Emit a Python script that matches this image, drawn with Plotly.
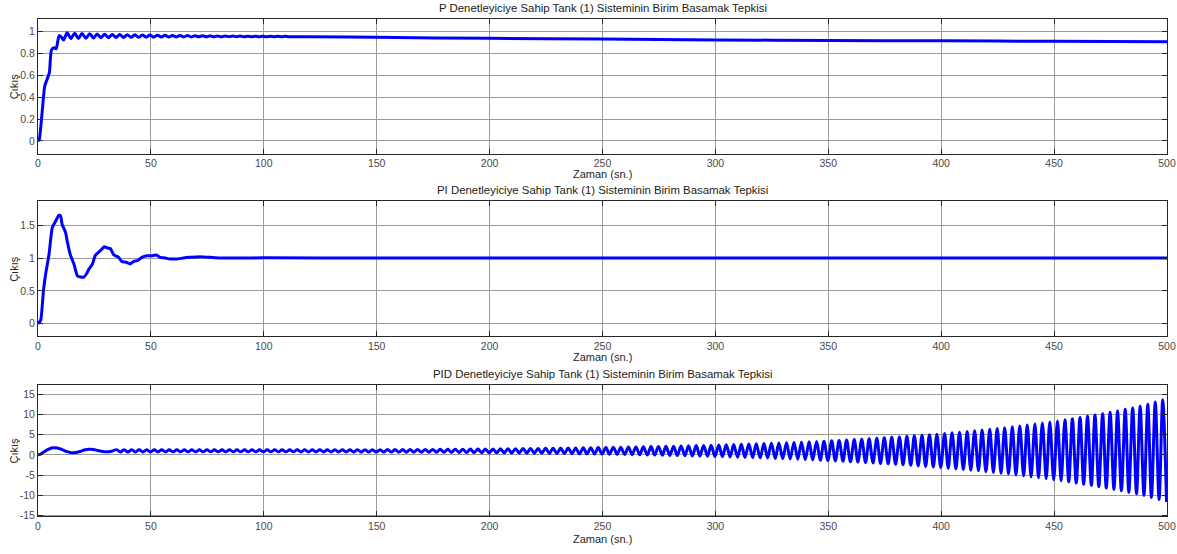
import plotly.graph_objects as go

# ---------------- P controller response ----------------
p_rise_t = [0, 0.5, 1, 2, 3, 4, 5, 6, 7, 8, 8.6, 9.4, 10.4, 11.3]
p_rise_y = [0, 0.01, 0.08, 0.30, 0.50, 0.56, 0.62, 0.83, 0.85, 0.84, 0.89, 0.96, 0.945, 0.92]

p_peak_t = [12.9, 16.2, 19.5, 22.9, 26.2, 29.5, 32.9, 36.2, 39.5, 42.9,
            46.2, 49.5, 52.9, 56.2, 59.5, 62.9, 66.2, 69.5, 72.9, 76.2,
            79.5, 82.9, 86.2, 89.5, 92.9, 96.2, 99.5, 102.9, 106.2, 109.5]
p_peak_y = [0.985, 0.982, 0.979, 0.977, 0.975, 0.973, 0.971, 0.970, 0.968, 0.967,
            0.966, 0.965, 0.964, 0.963, 0.962, 0.961, 0.960, 0.959, 0.959, 0.958,
            0.957, 0.957, 0.956, 0.956, 0.955, 0.955, 0.954, 0.954, 0.953, 0.953]
p_trough_t = [14.6, 17.9, 21.2, 24.6, 27.9, 31.2, 34.6, 37.9, 41.2, 44.6,
              47.9, 51.2, 54.6, 57.9, 61.2, 64.6, 67.9, 71.2, 74.6, 77.9,
              81.2, 84.6, 87.9, 91.2, 94.6, 97.9, 101.2, 104.6, 107.9, 111.2]
p_trough_y = [0.932, 0.934, 0.936, 0.938, 0.940, 0.941, 0.942, 0.943, 0.944, 0.945,
              0.946, 0.946, 0.947, 0.947, 0.948, 0.948, 0.948, 0.949, 0.949, 0.949,
              0.949, 0.949, 0.949, 0.949, 0.949, 0.949, 0.949, 0.949, 0.949, 0.949]
p_tail_t = [120, 150, 200, 250, 300, 350, 400, 450, 500]
p_tail_y = [0.950, 0.944, 0.935, 0.928, 0.921, 0.916, 0.912, 0.908, 0.905]

# ---------------- PI controller response ----------------
pi_t = [0, 1.2, 2.4, 3.4, 4.9, 6.3, 7.8, 9.3, 10.0, 10.7, 12.2, 12.9, 14.4, 15.9,
        17.4, 18.8, 20.3, 21.5, 22.5, 24.0, 25.4, 26.9, 28.4, 29.4, 30.9, 32.1,
        33.5, 35.7, 37.2, 39.1, 40.9, 42.4, 44.1, 46.0, 48.2, 50.4, 52.4, 54.1,
        56.3, 58.5, 61.5, 64.4, 67.4, 71.8, 76.2, 80.6, 90, 100, 150, 200, 300,
        400, 500]
pi_y = [0, 0.055, 0.50, 0.76, 1.06, 1.46, 1.56, 1.65, 1.64, 1.51, 1.39, 1.26, 1.04,
        0.91, 0.73, 0.71, 0.71, 0.76, 0.83, 0.90, 1.04, 1.09, 1.14, 1.17, 1.15, 1.14,
        1.05, 1.01, 0.945, 0.935, 0.91, 0.95, 0.96, 1.01, 1.035, 1.035, 1.045, 1.01,
        1.0, 0.985, 0.985, 1.0, 1.01, 1.02, 1.01, 1.0, 1.0, 1.003, 1.0, 1.0, 1.0,
        1.0, 1.0]

# ---------------- PID controller response ----------------
pid_start_t = [0, 1, 2.5, 4.5, 6.5, 8.5, 10.5, 12.5, 14.5, 16.5, 18.5, 20.5,
               22.5, 24.5, 26.5, 28.5, 30.5, 32.5]
pid_start_y = [0, 0.15, 0.70, 1.35, 1.75, 1.70, 1.35, 0.85, 0.55, 0.60, 0.85, 1.20,
               1.40, 1.35, 1.10, 0.85, 0.75, 0.90]

pid_peak_t = [
    34.8, 38.1,
    41.5, 44.8, 48.1, 51.5, 54.8, 58.1, 61.5, 64.8, 68.1, 71.5, 74.8, 78.1,
    81.5, 84.8, 88.1, 91.5, 94.8, 98.1, 101.5, 104.8, 108.1, 111.5, 114.8, 118.1,
    121.5, 124.8, 128.1, 131.5, 134.8, 138.1, 141.5, 144.8, 148.1, 151.5, 154.8, 158.1,
    161.5, 164.8, 168.1, 171.5, 174.8, 178.1, 181.5, 184.8, 188.1, 191.5, 194.8, 198.1,
    201.5, 204.8, 208.1, 211.5, 214.8, 218.1, 221.5, 224.8, 228.1, 231.5, 234.8, 238.1,
    241.5, 244.8, 248.1, 251.5, 254.8, 258.1, 261.5, 264.8, 268.1, 271.5, 274.8, 278.1,
    281.5, 284.8, 288.1, 291.5, 294.8, 298.1, 301.5, 304.8, 308.1, 311.5, 314.8, 318.1,
    321.5, 324.8, 328.1, 331.5, 334.8, 338.1, 341.5, 344.8, 348.1, 351.5, 354.8, 358.1,
    361.5, 364.8, 368.1, 371.5, 374.8, 378.1, 381.5, 384.8, 388.1, 391.5, 394.8, 398.1,
    401.5, 404.8, 408.1, 411.5, 414.8, 418.1, 421.5, 424.8, 428.1, 431.5, 434.8, 438.1,
    441.5, 444.8, 448.1, 451.5, 454.8, 458.1, 461.5, 464.8, 468.1, 471.5, 474.8, 478.1,
    481.5, 484.8, 488.1, 491.5, 494.8, 498.1,
]
pid_peak_y = [
    1.30, 1.30,
    1.29, 1.28, 1.28, 1.27, 1.27, 1.26, 1.26, 1.25, 1.25, 1.25, 1.25, 1.25,
    1.25, 1.25, 1.25, 1.25, 1.25, 1.25, 1.25, 1.25, 1.25, 1.25, 1.26, 1.26,
    1.26, 1.27, 1.27, 1.28, 1.28, 1.28, 1.29, 1.29, 1.30, 1.30, 1.31, 1.31,
    1.32, 1.33, 1.34, 1.35, 1.36, 1.37, 1.39, 1.40, 1.41, 1.44, 1.45, 1.47,
    1.49, 1.51, 1.53, 1.55, 1.57, 1.59, 1.61, 1.63, 1.66, 1.68, 1.70, 1.73,
    1.75, 1.78, 1.81, 1.84, 1.87, 1.90, 1.94, 1.98, 2.01, 2.05, 2.09, 2.13,
    2.17, 2.21, 2.26, 2.30, 2.35, 2.40, 2.45, 2.50, 2.56, 2.62, 2.68, 2.74,
    2.80, 2.87, 2.94, 3.01, 3.08, 3.16, 3.24, 3.32, 3.41, 3.50, 3.59, 3.69,
    3.79, 3.90, 4.00, 4.11, 4.23, 4.35, 4.47, 4.60, 4.73, 4.86, 5.00, 5.15,
    5.31, 5.47, 5.63, 5.80, 5.97, 6.15, 6.36, 6.55, 6.75, 6.97, 7.20, 7.43,
    7.66, 7.90, 8.15, 8.43, 8.70, 8.98, 9.28, 9.58, 9.90, 10.23, 10.57, 10.92,
    11.30, 11.67, 12.06, 12.60, 13.10, 13.70,
]

pid_trough_t = [
    36.5, 39.8,
    43.1, 46.5, 49.8, 53.1, 56.5, 59.8, 63.1, 66.5, 69.8, 73.1, 76.5, 79.8,
    83.1, 86.5, 89.8, 93.1, 96.5, 99.8, 103.1, 106.5, 109.8, 113.1, 116.5, 119.8,
    123.1, 126.5, 129.8, 133.1, 136.5, 139.8, 143.1, 146.5, 149.8, 153.1, 156.5, 159.8,
    163.1, 166.5, 169.8, 173.1, 176.5, 179.8, 183.1, 186.5, 189.8, 193.1, 196.5, 199.8,
    203.1, 206.5, 209.8, 213.1, 216.5, 219.8, 223.1, 226.5, 229.8, 233.1, 236.5, 239.8,
    243.1, 246.5, 249.8, 253.1, 256.5, 259.8, 263.1, 266.5, 269.8, 273.1, 276.5, 279.8,
    283.1, 286.5, 289.8, 293.1, 296.5, 299.8, 303.1, 306.5, 309.8, 313.1, 316.5, 319.8,
    323.1, 326.5, 329.8, 333.1, 336.5, 339.8, 343.1, 346.5, 349.8, 353.1, 356.5, 359.8,
    363.1, 366.5, 369.8, 373.1, 376.5, 379.8, 383.1, 386.5, 389.8, 393.1, 396.5, 399.8,
    403.1, 406.5, 409.8, 413.1, 416.5, 419.8, 423.1, 426.5, 429.8, 433.1, 436.5, 439.8,
    443.1, 446.5, 449.8, 453.1, 456.5, 459.8, 463.1, 466.5, 469.8, 473.1, 476.5, 479.8,
    483.1, 486.5, 489.8, 493.1, 496.5, 499.8,
]
pid_trough_y = [
    0.72, 0.72,
    0.72, 0.73, 0.73, 0.74, 0.74, 0.75, 0.75, 0.75, 0.75, 0.75, 0.75, 0.75,
    0.75, 0.75, 0.75, 0.75, 0.75, 0.75, 0.75, 0.75, 0.75, 0.75, 0.74, 0.74,
    0.74, 0.73, 0.73, 0.72, 0.72, 0.72, 0.71, 0.71, 0.70, 0.70, 0.69, 0.69,
    0.68, 0.67, 0.66, 0.65, 0.64, 0.63, 0.61, 0.60, 0.59, 0.56, 0.55, 0.53,
    0.51, 0.49, 0.47, 0.45, 0.43, 0.41, 0.39, 0.37, 0.34, 0.32, 0.30, 0.27,
    0.25, 0.22, 0.19, 0.16, 0.13, 0.10, 0.06, 0.02, -0.01, -0.05, -0.09, -0.13,
    -0.17, -0.21, -0.26, -0.30, -0.35, -0.40, -0.45, -0.50, -0.56, -0.62, -0.68, -0.74,
    -0.80, -0.87, -0.94, -1.01, -1.08, -1.16, -1.24, -1.32, -1.41, -1.50, -1.59, -1.69,
    -1.79, -1.90, -2.00, -2.11, -2.23, -2.35, -2.47, -2.60, -2.73, -2.86, -3.00, -3.15,
    -3.31, -3.47, -3.63, -3.80, -3.97, -4.15, -4.36, -4.55, -4.75, -4.97, -5.20, -5.43,
    -5.66, -5.90, -6.15, -6.43, -6.70, -6.98, -7.28, -7.58, -7.90, -8.23, -8.57, -8.92,
    -9.30, -9.67, -10.06, -10.60, -11.10, -11.70,
]

titles = [
    "P Denetleyiciye Sahip Tank (1) Sisteminin Birim Basamak Tepkisi",
    "PI Denetleyiciye Sahip Tank (1) Sisteminin Birim Basamak Tepkisi",
    "PID Denetleyiciye Sahip Tank (1) Sisteminin Birim Basamak Tepkisi",
]
x_label = "Zaman (sn.)"
y_label = "Çıkış"
x_ticks = [0, 50, 100, 150, 200, 250, 300, 350, 400, 450, 500]
y_ticks = [
    [0, 0.2, 0.4, 0.6, 0.8, 1],
    [0, 0.5, 1, 1.5],
    [-15, -10, -5, 0, 5, 10, 15],
]
y_tick_text = [
    ["0", "0.2", "0.4", "0.6", "0.8", "1"],
    ["0", "0.5", "1", "1.5"],
    ["-15", "-10", "-5", "0", "5", "10", "15"],
]
y_ranges = [[-0.115, 1.11], [-0.19, 1.86], [-15.25, 17.4]]


def merged(*pairs):
    pts = []
    for ts, ys in pairs:
        pts.extend(zip(ts, ys))
    pts.sort(key=lambda p: p[0])
    return [p[0] for p in pts], [p[1] for p in pts]


p_t, p_y = merged((p_rise_t, p_rise_y), (p_peak_t, p_peak_y),
                  (p_trough_t, p_trough_y), (p_tail_t, p_tail_y))
pid_t, pid_y = merged((pid_start_t, pid_start_y), (pid_peak_t, pid_peak_y),
                      (pid_trough_t, pid_trough_y))

BLUE = "#0000ff"
FONT = "Liberation Sans, Arial, sans-serif"
W, H = 1177, 554
PLOT_W = W - 38 - 10

# pixel rows of each axes box (top, bottom)
boxes = [(19.3, 155.0), (203.3, 339.3), (388.3, 521.0)]
xlab_rows = [175.5, 360.5, 543.5]

fig = go.Figure()
fig.add_trace(go.Scatter(x=p_t, y=p_y, mode="lines", xaxis="x", yaxis="y",
                         line=dict(color=BLUE, width=3, shape="spline", smoothing=0.8)))
fig.add_trace(go.Scatter(x=pi_t, y=pi_y, mode="lines", xaxis="x2", yaxis="y2",
                         line=dict(color=BLUE, width=3, shape="spline", smoothing=0.5)))
fig.add_trace(go.Scatter(x=pid_t, y=pid_y, mode="lines", xaxis="x3", yaxis="y3",
                         line=dict(color=BLUE, width=3, shape="spline", smoothing=0.9)))

axis_common = dict(
    showgrid=True, gridcolor="#9a9a9a", gridwidth=1,
    showline=True, linecolor="#262626", linewidth=1, mirror="ticks",
    ticks="inside", ticklen=5, tickcolor="#262626",
    zeroline=False,
    tickfont=dict(family=FONT, size=10.5, color="#4a4a4a"),
)

layout = dict(
    width=W, height=H,
    margin=dict(l=38, r=10, t=0, b=0),
    paper_bgcolor="white", plot_bgcolor="white",
    showlegend=False,
    annotations=[],
)

for i in range(3):
    top, bot = boxes[i]
    dom = [1 - bot / H, 1 - top / H]
    sx = "" if i == 0 else str(i + 1)
    layout["xaxis" + sx] = dict(
        axis_common, domain=[0, 1], anchor="y" + sx, range=[0, 500],
        tickvals=x_ticks, ticktext=[str(v) for v in x_ticks],
    )
    layout["yaxis" + sx] = dict(
        axis_common, domain=dom, anchor="x" + sx, range=y_ranges[i],
        tickvals=y_ticks[i], ticktext=y_tick_text[i],
    )
    layout["annotations"].append(dict(
        text=titles[i], xref="paper", yref="paper", x=0.5, y=dom[1],
        xanchor="center", yanchor="bottom", yshift=3, showarrow=False,
        font=dict(family=FONT, size=11.4, color="#1a1a1a"),
    ))
    layout["annotations"].append(dict(
        text=x_label, xref="paper", yref="paper", x=0.5, y=1 - xlab_rows[i] / H,
        xanchor="center", yanchor="middle", showarrow=False,
        font=dict(family=FONT, size=11, color="#262626"),
    ))
    layout["annotations"].append(dict(
        text=y_label, xref="paper", yref="paper", x=-24 / PLOT_W, y=(dom[0] + dom[1]) / 2,
        xanchor="center", yanchor="middle", textangle=-90, showarrow=False,
        font=dict(family=FONT, size=11, color="#262626"),
    ))

fig.update_layout(**layout)
fig.write_html("out.html")
